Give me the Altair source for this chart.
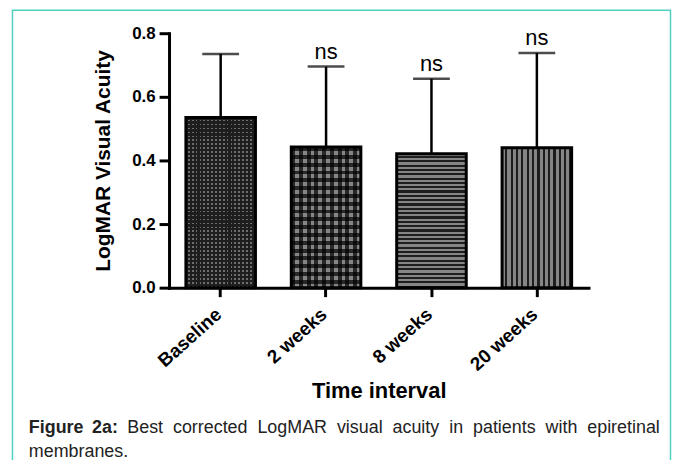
import altair as alt
import pandas as pd

# ---------------- data ----------------
categories = ["Baseline", "2 weeks", "8 weeks", "20 weeks"]
means = [0.535, 0.442, 0.421, 0.440]
upper = [0.735, 0.695, 0.657, 0.738]
sig_labels = ["", "ns", "ns", "ns"]
y_ticks = [0.0, 0.2, 0.4, 0.6, 0.8]

x_title = "Time interval"
y_title = "LogMAR Visual Acuity"
caption_bold = "Figure\u00a0\u20092a:"
caption_rest = "Best corrected LogMAR visual acuity in patients with epiretinal".replace(" ", "\u00a0\u00a0")
caption_line2 = "membranes."

df = pd.DataFrame({"cat": categories, "mean": means, "upper": upper, "sig": sig_labels})
one = pd.DataFrame({"k": [0]})

FONT = "Liberation Sans"
PX_PER_UNIT = 320.0   # plot height 256 px for 0.8 units
BAR_W = 70.0

LIGHT = "#858585"
DARK = "#1e1e1e"


def stripes(n, c1, c2, frac1, along_y):
    stops = []
    for i in range(n):
        a = i / n
        b = (i + frac1) / n
        c = (i + 1) / n
        stops += [
            {"offset": a, "color": c1},
            {"offset": b, "color": c1},
            {"offset": b, "color": c2},
            {"offset": c, "color": c2},
        ]
    g = {"gradient": "linear", "stops": stops, "x1": 0, "y1": 0}
    if along_y:
        g.update({"x2": 0, "y2": 1})
    else:
        g.update({"x2": 1, "y2": 0})
    return g


X_AXIS = alt.Axis(
    title=x_title, titleFont=FONT, titleFontSize=22, titleFontWeight="bold", titleColor="black",
    titleX=211, titleY=110, titleBaseline="alphabetic", titleAlign="center",
    labelFont=FONT, labelFontSize=19, labelFontWeight="bold", labelColor="black",
    labelAngle=-42, labelAlign="right", labelBaseline="top", labelPadding=8, labelOffset=-8,
    domainColor="black", domainWidth=3, domainCap="square",
    tickColor="black", tickWidth=3, tickSize=9,
)
Y_AXIS = alt.Axis(
    title=y_title, titleFont=FONT, titleFontSize=21, titleFontWeight="bold", titleColor="black",
    titleX=-60, titleY=128, titleAngle=270, titleBaseline="alphabetic", titleAlign="center",
    values=y_ticks, format=".1f", grid=False,
    labelFont=FONT, labelFontSize=17, labelFontWeight="bold", labelColor="black", labelPadding=4,
    domainColor="black", domainWidth=3, domainCap="square",
    tickColor="black", tickWidth=3, tickSize=10,
)

x_enc = alt.X("cat:N", sort=categories, scale=alt.Scale(paddingInner=0.34, paddingOuter=0.16), axis=X_AXIS)
y_mean = alt.Y("mean:Q", scale=alt.Scale(domain=[0, 0.8], nice=False, zero=True), axis=Y_AXIS)
y_upper = alt.Y("upper:Q", scale=alt.Scale(domain=[0, 0.8], nice=False, zero=True), axis=Y_AXIS)

base = alt.Chart(df)


def bar(cat, fill):
    return base.transform_filter(alt.datum.cat == cat).mark_bar(fill=fill, strokeWidth=0).encode(x=x_enc, y=y_mean)


layers = []

# frame and caption
layers.append(alt.Chart(one).mark_rect(fillOpacity=0, stroke="#4fd0c1", strokeWidth=1.5).encode(
    x=alt.value(-157.5), x2=alt.value(504.5), y=alt.value(-23.2), y2=alt.value(440)))
layers.append(alt.Chart(one).mark_text(font=FONT, fontSize=18, fontWeight="bold", color="#222222",
                                       align="left", baseline="alphabetic").encode(
    x=alt.value(-141), y=alt.value(402), text=alt.value(caption_bold)))
layers.append(alt.Chart(one).mark_text(font=FONT, fontSize=18, color="#222222",
                                       align="left", baseline="alphabetic").encode(
    x=alt.value(-42), y=alt.value(402), text=alt.value(caption_rest)))
layers.append(alt.Chart(one).mark_text(font=FONT, fontSize=18, color="#222222",
                                       align="left", baseline="alphabetic").encode(
    x=alt.value(-141), y=alt.value(426), text=alt.value(caption_line2)))

# bar fills (patterns)
nb_y = round(means[0] * PX_PER_UNIT / 4)
layers.append(bar(categories[0], "#6e6e6e"))
layers.append(bar(categories[0], stripes(nb_y, DARK, "rgba(0,0,0,0)", 0.55, True)))
layers.append(bar(categories[0], stripes(round(BAR_W / 4), DARK, "rgba(0,0,0,0)", 0.55, False)))

n2_y = round(means[1] * PX_PER_UNIT / 8)
layers.append(bar(categories[1], LIGHT))
layers.append(bar(categories[1], stripes(n2_y, "rgba(0,0,0,0.7)", "rgba(0,0,0,0)", 0.5, True)))
layers.append(bar(categories[1], stripes(round(BAR_W / 8), "rgba(0,0,0,0.7)", "rgba(0,0,0,0)", 0.5, False)))

n3_y = round(means[2] * PX_PER_UNIT / 4.3)
layers.append(bar(categories[2], stripes(n3_y, LIGHT, DARK, 0.5, True)))

layers.append(bar(categories[3], stripes(13, LIGHT, DARK, 0.58, False)))

# outlines
layers.append(base.mark_bar(fillOpacity=0, stroke="black", strokeWidth=3).encode(x=x_enc, y=y_mean))

# error bars
layers.append(base.mark_rule(color="black", strokeWidth=2.5).encode(x=x_enc, y=y_mean, y2="upper:Q"))
layers.append(base.mark_tick(color="black", size=37, thickness=2.5).encode(x=x_enc, y=y_upper))

# significance labels
layers.append(base.mark_text(font=FONT, fontSize=22, color="black", baseline="alphabetic", dy=-8).encode(
    x=x_enc, y=y_upper, text="sig:N"))

chart = alt.layer(*layers).properties(
    width=422, height=256,
    autosize=alt.AutoSizeParams(type="none"),
    padding={"left": 162, "top": 24, "right": 84, "bottom": 172},
    background="white",
).configure_view(stroke=None)

chart.save("out.html", embed_options={"renderer": "svg", "actions": False})
